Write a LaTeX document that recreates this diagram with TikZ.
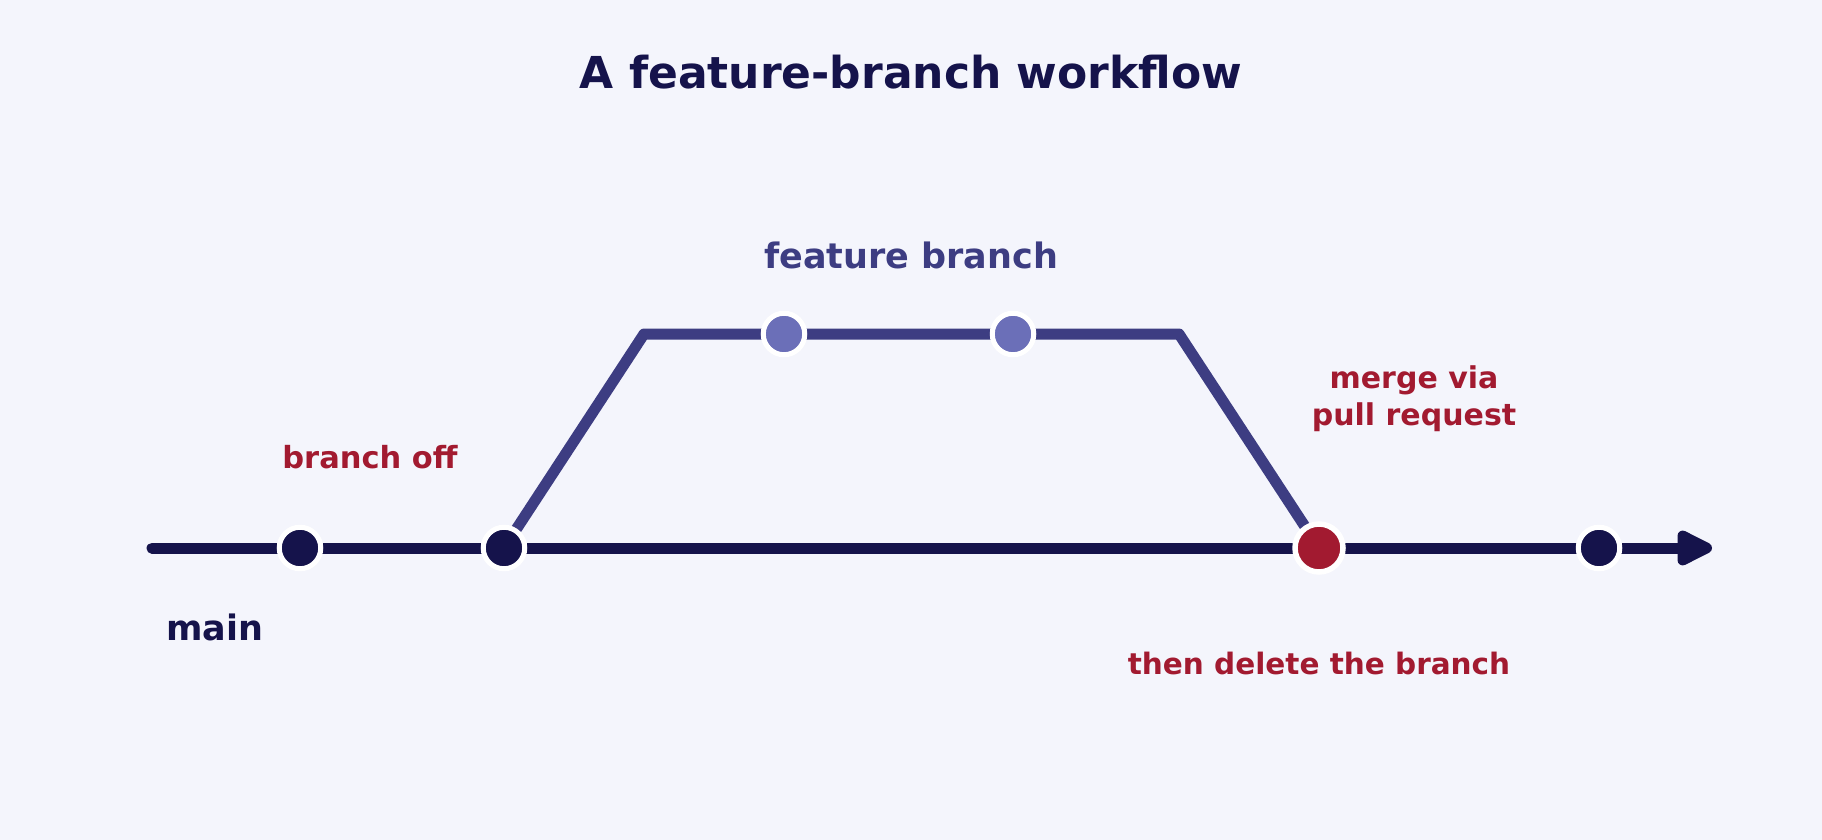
\documentclass[tikz,border=0pt]{standalone}
\usepackage{fontspec}
\setmainfont{DejaVu Sans}
\usetikzlibrary{arrows.meta,backgrounds}
\definecolor{bgcol}{HTML}{F4F5FC}
\definecolor{navy}{HTML}{15134B}
\definecolor{branchcol}{HTML}{3D3D82}
\definecolor{featcol}{HTML}{6B6FB8}
\definecolor{mergecol}{HTML}{A21A30}

\begin{document}
\begin{tikzpicture}[x=1pt,y=-1pt]
        \tikzstyle{commit}=[circle,fill=navy,draw=white,line width=5pt,minimum size=41.5pt,inner sep=0pt]
        \tikzstyle{featcommit}=[commit,fill=featcol]
        \tikzstyle{mergecommit}=[commit,fill=mergecol,line width=5.5pt,minimum size=48pt]
        \tikzstyle{label}=[font=\bfseries\fontsize{30}{37}\selectfont,text=mergecol,anchor=base,align=center,inner sep=0pt]
  \useasboundingbox (0,0) rectangle (1822,840);
  \node[font=\bfseries\fontsize{44}{53}\selectfont,text=navy,anchor=base,inner sep=0pt] (T) at (911,89) {A feature-branch workflow};
  % main line
  \coordinate (S) at (152,548);
  \coordinate (E) at (1712,548);
  \node[commit] (M_1) at (300,548) {};
  \node[commit] (M_2) at (504,548) {};
  \node[mergecommit] (M_3) at (1319,548) {};
  \node[commit] (M_4) at (1599,548) {};
  % feature branch
  \coordinate (B_1) at (644,334);
  \coordinate (B_2) at (1179,334);
  \node[featcommit] (F_1) at (784,334) {};
  \node[featcommit] (F_2) at (1013,334) {};
  \begin{scope}[on background layer]
    \fill[bgcol] (0,0) rectangle (1822,840);
    \draw[navy,line width=11pt,line cap=round,-{Triangle[length=42pt,width=38pt,round]}]
      (S) -- (M_1.center) -- (M_2.center) -- (M_3.center) -- (M_4.center) -- (E);
    \draw[branchcol,line width=11pt,line join=round]
      (M_2.center) -- (B_1) -- (F_1.center) -- (F_2.center) -- (B_2) -- (M_3.center);
  \end{scope}
  \node[label,text=branchcol,font=\bfseries\fontsize{35}{42}\selectfont] (L_feat) at (911,268) {feature branch};
  \node[label,font=\bfseries\fontsize{30.5}{37}\selectfont] (L_off) at (370,468) {branch off};
  \node[label,text=navy,font=\bfseries\fontsize{35}{42}\selectfont] (L_main) at (215,640) {main};
  \node[label] (L_merge) at (1414,425) {merge via\\pull request};
  \node[label,font=\bfseries\fontsize{29.5}{36}\selectfont] (L_del) at (1319,674) {then delete the branch};
    \end{tikzpicture}
\end{document}
